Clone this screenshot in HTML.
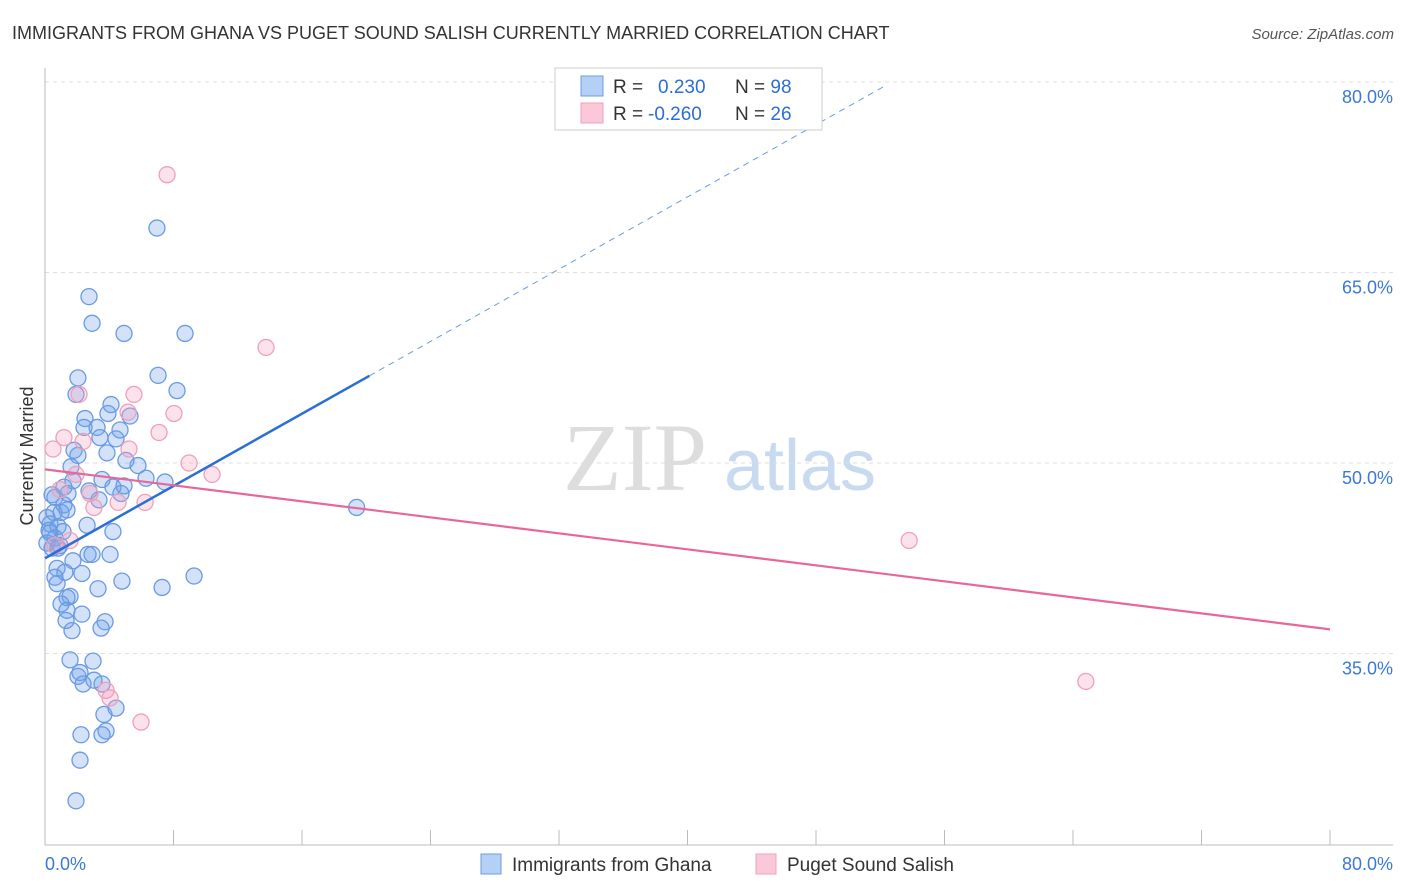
<!DOCTYPE html>
<html><head><meta charset="utf-8"><style>
body{margin:0;background:#fff;font-family:"Liberation Sans",sans-serif;}
svg{display:block}
</style></head><body>
<svg id="c" width="1406" height="892">
<text x="12" y="39" font-size="18" fill="#333">IMMIGRANTS FROM GHANA VS PUGET SOUND SALISH CURRENTLY MARRIED CORRELATION CHART</text>
<text x="1394" y="39" font-size="15" fill="#555" font-style="italic" text-anchor="end">Source: ZipAtlas.com</text>
<text x="33" y="456" font-size="18" fill="#333" text-anchor="middle" transform="rotate(-90 33 456)">Currently Married</text>
<g><text x="635" y="490" font-size="96" font-family="Liberation Serif,serif" fill="#ddd" text-anchor="middle">ZIP</text><text x="800" y="490" font-size="72" fill="#c8daf0" text-anchor="middle">atlas</text></g>
<g id="grid"></g><g id="axes"></g><g id="pts"></g><g id="lines"></g>
<g>
<rect x="555" y="68" width="267" height="62" fill="#fff" stroke="#ccc"/>
<rect x="581" y="76" width="22" height="20" fill="#b5d0f5" stroke="#6a9be0"/>
<rect x="581" y="103" width="22" height="20" fill="#fbc8d8" stroke="#eea0bb"/>
<text x="613" y="93" font-size="19" fill="#333">R = <tspan fill="#2a6fd6" x="658">0.230</tspan><tspan x="735" fill="#333">N = </tspan><tspan fill="#2a6fd6">98</tspan></text>
<text x="613" y="120" font-size="19" fill="#333">R = <tspan fill="#2a6fd6" x="648">-0.260</tspan><tspan x="735" fill="#333">N = </tspan><tspan fill="#2a6fd6">26</tspan></text>
</g>
<g>
<rect x="481" y="854" width="20" height="20" fill="#b5d0f5" stroke="#6a9be0"/>
<text x="512" y="871" font-size="19" fill="#333">Immigrants from Ghana</text>
<rect x="756" y="854" width="20" height="20" fill="#fbc8d8" stroke="#eea0bb"/>
<text x="787" y="871" font-size="19" fill="#333">Puget Sound Salish</text>
</g>
</svg>
<script>
const xTicks=[0,80];
const yTicks=[35,50,65,80];
const blueX=[6.97,2.74,2.93,4.92,8.72,7.04,2.05,8.22,1.93,4.11,3.92,2.49,5.29,2.43,3.24,4.67,3.42,4.42,1.81,2.05,3.86,5.04,1.62,5.79,6.29,7.47,1.74,3.55,1.18,4.23,4.92,2.74,1.43,4.73,0.62,3.36,1.18,19.4,0.56,1.0,1.37,2.62,0.31,0.81,1.12,0.31,4.23,0.62,0.12,0.44,0.93,2.68,2.93,4.05,1.74,0.75,1.24,2.30,0.62,9.28,4.79,0.75,7.29,3.30,1.56,1.37,1.0,1.37,2.30,1.31,3.74,3.49,1.68,1.56,2.99,2.05,2.18,3.05,2.37,3.55,3.67,4.42,2.24,3.80,3.55,2.18,1.93,0.12,0.25,0.44,0.81];
const blueY=[68.5,63.1,61.0,60.2,60.2,56.9,56.7,55.7,55.4,54.6,53.9,53.5,53.7,52.8,52.8,52.6,52.0,51.9,51.0,50.6,50.8,50.2,49.7,49.8,48.8,48.5,48.6,48.7,48.1,48.1,48.2,47.8,47.6,47.6,47.3,47.1,46.7,46.5,46.1,46.1,46.3,45.1,45.2,45.0,44.6,44.5,44.6,44.1,43.7,43.3,43.5,42.8,42.8,42.8,42.3,41.7,41.4,41.3,41.0,41.1,40.7,40.5,40.2,40.1,39.5,39.4,38.9,38.4,38.1,37.6,37.5,37.0,36.8,34.5,34.4,33.2,33.5,32.9,32.6,32.6,30.2,30.7,28.6,28.9,28.6,26.6,23.4,45.7,44.7,47.5,43.3];
const pinkX=[7.6,13.76,2.12,5.54,8.03,5.17,1.18,2.37,7.1,0.5,5.23,8.97,10.4,1.93,0.93,2.8,6.23,4.55,3.05,1.56,53.8,3.8,4.05,5.98,64.8,0.62];
const pinkY=[72.7,59.1,55.4,55.4,53.9,54.0,52.0,51.7,52.4,51.1,51.1,50.0,49.1,49.1,47.9,47.6,46.9,46.9,46.5,43.9,43.9,32.1,31.5,29.6,32.8,43.5];
const blueTrend=[42.5,99.4];
const pinkTrend=[49.5,36.9];
const NS="http://www.w3.org/2000/svg";
const X=v=>45+v*1285/80, Y=v=>463-(v-50)*12.7;
function mk(p,t,a){const e=document.createElementNS(NS,t);for(const k in a)e.setAttribute(k,a[k]);p.appendChild(e);return e;}
const grid=document.getElementById('grid'),axes=document.getElementById('axes'),pts=document.getElementById('pts'),lines=document.getElementById('lines');
yTicks.forEach(v=>{
 const l=mk(grid,'line',{x1:45,x2:1393,y1:Y(v),y2:Y(v),stroke:'#ddd','stroke-dasharray':'4,4'});
 
 
 const t=mk(axes,'text',{x:1393,y:Y(v)+21,'font-size':18,fill:'#3b78d8','text-anchor':'end'});t.textContent=v.toFixed(1)+'%';
 
 
});
mk(axes,'line',{x1:45,x2:45,y1:68,y2:845,stroke:'#bbb'});
mk(axes,'line',{x1:45,x2:1393,y1:845,y2:845,stroke:'#bbb'});
for(let i=0;i<=10;i++){mk(axes,'line',{x1:X(i*8),x2:X(i*8),y1:830,y2:845,stroke:'#bbb'});}
xTicks.forEach((v,i)=>{const t=mk(axes,'text',{x:i?1393:45,y:870,'font-size':18,fill:'#3b78d8','text-anchor':i?'end':'start'});t.textContent=v.toFixed(1)+'%';
 
 });
blueX.forEach((v,i)=>{const c=mk(pts,'circle',{cx:X(v),cy:Y(blueY[i]),r:8,fill:'rgba(110,160,235,0.3)',stroke:'#6a9be0','stroke-width':1.3});
 
 });
pinkX.forEach((v,i)=>{const c=mk(pts,'circle',{cx:X(v),cy:Y(pinkY[i]),r:8,fill:'rgba(245,160,190,0.3)',stroke:'#eea0bb','stroke-width':1.3});
 
 });
const by=x=>blueTrend[0]+(blueTrend[1]-blueTrend[0])*x/80;
const b1=mk(lines,'line',{x1:X(0),y1:Y(by(0)),x2:X(20.2),y2:Y(by(20.2)),stroke:'#2a6fd6','stroke-width':2.5});


const b2=mk(lines,'line',{x1:X(20.2),y1:Y(by(20.2)),x2:X(52.3),y2:Y(by(52.3)),stroke:'#6a9be0','stroke-width':1,'stroke-dasharray':'6,5'});


const p1=mk(lines,'line',{x1:X(0),y1:Y(pinkTrend[0]),x2:X(80),y2:Y(pinkTrend[1]),stroke:'#e8679a','stroke-width':2.2});


</script>
</body></html>
